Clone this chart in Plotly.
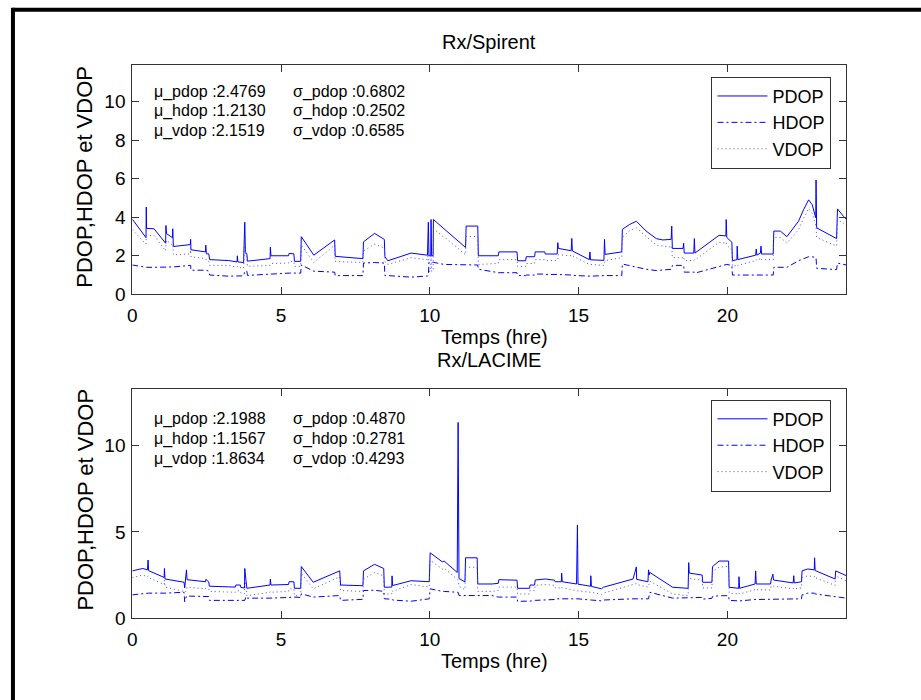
import plotly.graph_objects as go

# ---------------- Rx/Spirent : time (h) and DOP values ----------------
spirent_t = [0.00, 0.46, 0.47, 0.48, 0.73, 1.12, 1.13, 1.15, 1.35, 1.36, 1.38, 1.95, 1.96, 1.97,
             2.46, 2.47, 2.49, 2.57, 2.60, 3.24, 3.52, 3.53, 3.55, 3.74, 3.78, 3.80, 3.85, 3.87,
             4.63, 4.64, 4.66, 5.25, 5.27, 5.43, 5.45, 5.66, 5.68, 6.10, 6.80, 6.82, 7.75, 7.77,
             8.14, 8.47, 8.49, 8.59, 9.37, 9.92, 9.95, 9.97, 10.03, 10.04, 10.06, 10.11, 10.12,
             10.48, 10.55, 11.20, 11.22, 11.61, 11.63, 12.30, 12.32, 12.93, 12.95, 13.22, 13.24,
             13.52, 13.54, 13.86, 13.88, 14.28, 14.30, 14.32, 14.75, 14.77, 14.79, 15.36, 15.38,
             15.40, 15.85, 15.87, 15.89, 16.45, 16.47, 16.71, 16.94, 17.27, 17.61, 17.83, 18.11,
             18.13, 18.15, 18.51, 18.53, 18.55, 18.87, 18.89, 18.91, 19.72, 19.95, 19.96, 19.98,
             20.15, 20.17, 20.32, 20.33, 20.35, 20.95, 20.97, 20.99, 21.11, 21.13, 21.15, 21.54,
             21.56, 21.78, 22.00, 22.39, 22.56, 22.73, 22.85, 22.97, 22.98, 23.00, 23.67, 23.70,
             23.90, 24.00]
spirent_pdop = [3.90, 2.94, 4.53, 3.42, 3.40, 2.65, 3.57, 3.15, 2.94, 3.40, 2.48, 2.58, 2.85, 2.31,
                2.20, 2.55, 2.10, 2.10, 1.80, 1.75, 1.68, 2.00, 1.68, 1.65, 3.74, 2.20, 2.10, 1.72,
                1.85, 2.45, 2.00, 2.00, 2.12, 2.10, 1.71, 1.71, 2.99, 2.03, 2.82, 1.97, 1.85, 2.72,
                3.16, 2.85, 1.95, 1.74, 2.14, 2.03, 3.74, 2.00, 2.00, 3.88, 2.00, 2.00, 3.88,
                3.37, 3.30, 2.43, 3.54, 3.54, 2.00, 2.00, 2.20, 2.20, 1.74, 1.74, 1.95,
                1.95, 2.20, 2.20, 2.09, 2.09, 2.68, 2.38, 2.26, 2.90, 2.25, 1.80, 2.20,
                1.79, 1.76, 2.85, 2.07, 2.20, 3.37, 3.62, 3.79, 3.28, 2.89, 2.82, 2.85,
                3.54, 2.38, 2.38, 2.65, 2.14, 2.14, 2.89, 2.14, 3.06, 3.03, 3.88, 2.95,
                2.70, 1.74, 1.80, 2.50, 1.80, 2.03, 2.35, 2.03, 2.14, 2.50, 2.09, 2.09,
                3.28, 3.28, 2.99, 3.79, 4.39, 4.90, 4.65, 3.97, 5.93, 3.45, 2.89, 4.43,
                4.05, 3.88]
spirent_hdop = [1.52, 1.40, 1.40, 1.40, 1.40, 1.40, 1.40, 1.40, 1.42, 1.42, 1.42, 1.50, 1.50, 1.25,
                1.25, 1.25, 1.25, 1.20, 1.00, 0.94, 0.95, 0.95, 0.95, 0.96, 1.20, 1.20, 1.20, 0.98,
                1.05, 1.05, 1.08, 1.10, 1.10, 1.10, 1.10, 1.10, 1.52, 1.20, 1.15, 0.97, 0.97, 1.62,
                1.65, 1.62, 0.97, 0.97, 0.89, 0.95, 1.00, 1.66, 1.66, 1.66, 1.66, 1.66, 1.66,
                1.55, 1.55, 1.52, 1.52, 1.52, 1.30, 1.12, 1.12, 1.12, 0.97, 0.97, 1.00,
                1.00, 1.05, 1.05, 1.03, 1.03, 1.03, 1.00, 1.00, 1.00, 0.98, 0.94, 0.94,
                0.94, 0.97, 0.97, 0.97, 0.97, 1.57, 1.48, 1.40, 1.30, 1.23, 1.25, 1.30,
                1.30, 1.50, 1.50, 1.50, 1.15, 1.15, 1.15, 1.10, 1.45, 1.55, 1.55, 1.55,
                1.50, 1.00, 1.00, 1.00, 1.00, 1.00, 1.00, 1.00, 1.00, 1.00, 1.00, 1.00,
                1.40, 1.40, 1.40, 1.74, 1.85, 1.95, 1.95, 1.90, 1.90, 1.35, 1.28, 1.62,
                1.55, 1.52]
spirent_vdop = [3.35, 2.60, 2.95, 3.05, 3.05, 2.25, 2.60, 2.80, 2.55, 2.60, 2.05, 2.10, 2.40, 1.95,
                1.85, 1.85, 1.75, 1.70, 1.50, 1.50, 1.40, 1.45, 1.40, 1.35, 2.90, 2.10, 2.00, 1.45,
                1.50, 1.55, 1.60, 1.62, 1.70, 1.70, 1.45, 1.45, 2.55, 1.65, 2.55, 1.70, 1.65, 2.25,
                2.60, 2.40, 1.70, 1.55, 1.90, 1.80, 2.30, 1.20, 1.20, 2.00, 1.20, 1.20, 3.40,
                2.95, 2.90, 2.05, 3.00, 3.00, 1.55, 1.60, 1.80, 1.80, 1.45, 1.45, 1.60,
                1.60, 1.80, 1.80, 1.75, 1.75, 1.80, 2.05, 2.00, 2.05, 2.00, 1.55, 1.55,
                1.55, 1.50, 1.60, 1.75, 1.90, 2.95, 3.30, 3.45, 3.00, 2.55, 2.50, 2.45,
                2.50, 1.90, 1.90, 1.95, 1.75, 1.75, 1.80, 1.78, 2.70, 2.65, 2.70, 2.55,
                2.30, 1.45, 1.50, 1.55, 1.50, 1.75, 1.80, 1.75, 1.85, 1.90, 1.80, 1.80,
                2.95, 2.95, 2.65, 3.35, 3.95, 4.45, 4.20, 3.55, 3.55, 2.95, 2.50, 3.85,
                3.70, 3.55]

# ---------------- Rx/LACIME : time (h) and DOP values ----------------
lacime_t = [0.00, 0.35, 0.51, 0.53, 0.55, 1.07, 1.08, 1.10, 1.74, 1.76, 1.82, 1.84, 2.46, 2.47,
            2.57, 2.59, 3.46, 3.48, 3.63, 3.65, 3.77, 3.78, 3.82, 3.85, 4.63, 4.64, 4.66, 5.25,
            5.27, 5.43, 5.45, 5.66, 5.68, 6.08, 6.97, 7.00, 7.75, 7.77, 8.14, 8.45, 8.47, 8.72,
            8.73, 8.75, 9.37, 9.98, 10.01, 10.42, 10.48, 10.92, 10.95, 10.98, 11.18, 11.20,
            11.59, 11.61, 12.09, 12.30, 12.32, 12.93, 12.95, 13.35, 13.37, 13.52, 13.54, 13.88,
            14.19, 14.21, 14.42, 14.43, 14.45, 14.93, 14.96, 14.98, 15.40, 15.41, 15.43, 15.77,
            15.83, 16.83, 16.94, 16.95, 17.33, 17.35, 17.37, 17.39, 18.16, 18.68, 18.70, 18.72,
            19.15, 19.17, 19.48, 19.50, 19.72, 20.04, 20.06, 20.38, 20.39, 20.41, 20.93, 20.95,
            20.97, 21.45, 21.47, 21.53, 21.55, 22.21, 22.23, 22.25, 22.49, 22.51, 22.70, 22.92,
            22.93, 22.95, 23.62, 23.64, 24.00]
lacime_pdop = [2.74, 2.88, 2.80, 3.37, 2.75, 2.36, 2.88, 2.27, 2.08, 1.75, 2.80, 2.23, 2.11, 2.25,
               2.10, 1.85, 1.80, 1.92, 1.92, 1.78, 1.75, 2.88, 2.20, 1.73, 1.92, 2.27, 1.92, 1.95,
               2.11, 2.11, 1.73, 1.73, 2.99, 2.08, 2.74, 1.92, 1.88, 2.74, 3.12, 2.88, 1.79, 1.80,
               2.45, 1.89, 2.17, 2.11, 3.79, 3.26, 3.31, 2.65, 11.35, 2.30, 2.10, 3.50,
               3.50, 1.98, 1.98, 2.02, 2.23, 2.20, 1.73, 1.73, 1.92, 1.92, 2.21, 2.27,
               2.20, 2.11, 2.11, 2.61, 2.11, 1.98, 5.40, 1.97, 1.85, 2.46, 1.84, 1.70,
               1.79, 2.27, 2.97, 2.25, 2.11, 2.80, 2.50, 2.65, 1.79, 1.73, 3.22, 2.61,
               2.50, 2.08, 2.08, 2.99, 3.31, 3.31, 1.79, 1.73, 2.40, 1.73, 1.98, 2.74,
               1.98, 1.98, 2.21, 2.55, 2.21, 2.04, 2.46, 2.04, 2.11, 2.74, 2.85, 2.80,
               3.50, 2.76, 2.27, 2.74, 2.46]
lacime_hdop = [1.35, 1.40, 1.41, 1.41, 1.45, 1.45, 1.45, 1.45, 1.50, 0.95, 1.28, 1.28, 1.25, 1.25,
               1.25, 1.03, 1.00, 1.00, 1.02, 1.02, 1.03, 1.03, 1.25, 1.16, 1.16, 1.16, 1.16, 1.20,
               1.20, 1.22, 1.22, 1.20, 1.41, 1.22, 1.31, 1.03, 1.09, 1.60, 1.62, 1.55, 1.12, 1.10,
               1.10, 1.05, 0.98, 1.12, 1.70, 1.55, 1.55, 1.50, 1.50, 1.31, 1.31, 1.31,
               1.31, 1.31, 1.31, 1.22, 1.22, 1.22, 0.97, 0.97, 1.00, 1.00, 1.03, 1.05,
               1.08, 1.12, 1.12, 1.12, 1.12, 1.12, 1.12, 1.12, 1.05, 1.05, 1.05, 1.00,
               1.05, 1.12, 1.12, 1.12, 1.12, 1.12, 1.30, 1.50, 1.16, 1.20, 1.20, 1.20,
               1.20, 1.10, 1.15, 1.25, 1.30, 1.30, 1.03, 1.00, 1.00, 1.00, 1.08, 1.08,
               1.08, 1.12, 1.12, 1.12, 1.12, 1.10, 1.10, 1.10, 1.12, 1.35, 1.45, 1.45,
               1.45, 1.40, 1.22, 1.22, 1.16]
lacime_vdop = [2.35, 2.50, 2.40, 2.45, 2.35, 1.95, 2.20, 1.80, 1.55, 1.50, 1.60, 1.80, 1.70, 1.75,
               1.70, 1.55, 1.50, 1.58, 1.58, 1.45, 1.42, 2.30, 1.80, 1.30, 1.50, 1.55, 1.50, 1.55,
               1.70, 1.70, 1.30, 1.30, 2.60, 1.70, 2.40, 1.60, 1.55, 2.25, 2.65, 2.45, 1.40, 1.40,
               1.60, 1.55, 1.95, 1.80, 3.35, 2.85, 2.90, 2.20, 2.20, 1.85, 1.65, 2.95,
               2.95, 1.55, 1.55, 1.60, 1.80, 1.80, 1.40, 1.40, 1.60, 1.60, 1.90, 1.95,
               1.90, 1.75, 1.75, 1.80, 1.75, 1.60, 1.60, 1.58, 1.50, 1.50, 1.50, 1.38,
               1.45, 1.95, 2.00, 1.95, 1.80, 1.85, 2.05, 2.15, 1.40, 1.30, 2.20, 2.30,
               2.20, 1.75, 1.75, 2.70, 2.95, 3.00, 1.45, 1.40, 1.45, 1.40, 1.65, 1.70,
               1.65, 1.63, 1.85, 1.90, 1.85, 1.70, 1.75, 1.70, 1.75, 2.35, 2.45, 2.40,
               2.45, 2.35, 1.90, 2.45, 2.15]

# ---------------- summary statistics shown in each panel ----------------
stat_names = ["pdop", "hdop", "vdop"]
spirent_mu = ["2.4769", "1.2130", "2.1519"]
spirent_sigma = ["0.6802", "0.2502", "0.6585"]
lacime_mu = ["2.1988", "1.1567", "1.8634"]
lacime_sigma = ["0.4870", "0.2781", "0.4293"]

x_ticks = [0, 5, 10, 15, 20]
spirent_y_ticks = [0, 2, 4, 6, 8, 10]
lacime_y_ticks = [0, 5, 10]

W, H = 921, 700
FONT = "Liberation Sans, Arial, Helvetica, sans-serif"
BLUE = "rgb(0,0,255)"
AXIS_COLOR = "#333333"


def px_x(x):
    return x / W


def px_y(y):
    return 1 - y / H


fig = go.Figure()

styles = [("PDOP", "solid", BLUE),
          ("HDOP", "6px,3px,2px,3px", BLUE),
          ("VDOP", "1px,3px", "rgb(70,70,255)")]


def add_panel(t, series, xa, ya, legend):
    for (name, dash, color), y in zip(styles, series):
        fig.add_trace(go.Scatter(
            x=t, y=y, mode="lines", name=name,
            line=dict(color=color, width=1, dash=dash),
            xaxis=xa, yaxis=ya, legend=legend,
        ))


add_panel(spirent_t, [spirent_pdop, spirent_hdop, spirent_vdop], "x", "y", "legend")
add_panel(lacime_t, [lacime_pdop, lacime_hdop, lacime_vdop], "x2", "y2", "legend2")

axis_common = dict(
    showgrid=False, zeroline=False, showline=True, linecolor=AXIS_COLOR, linewidth=1,
    mirror="ticks", ticks="inside", ticklen=7, tickcolor=AXIS_COLOR, tickwidth=1,
    tickfont=dict(family=FONT, size=19, color="black"),
)

x_dom = [px_x(128), px_x(846)]

legend_common = dict(
    xanchor="right", yanchor="top", x=px_x(831),
    bgcolor="white", bordercolor=AXIS_COLOR, borderwidth=1,
    font=dict(family=FONT, size=18, color="black"),
    itemwidth=50, tracegroupgap=0,
)

annotations = []


def add_text(text, x, y, size, xanchor="center", angle=0):
    annotations.append(dict(
        text=text, x=px_x(x), y=px_y(y), xref="paper", yref="paper",
        xanchor=xanchor, yanchor="middle", showarrow=False, textangle=angle,
        font=dict(family=FONT, size=size, color="black"),
    ))


# panel titles and axis labels
add_text("Rx/Spirent", 487, 43, 20)
add_text("Rx/LACIME", 487, 366, 20)
add_text("Temps (hre)", 492, 342, 20)
add_text("Temps (hre)", 492, 672, 20)
add_text("PDOP,HDOP et VDOP", 80, 180, 22, angle=-90)
add_text("PDOP,HDOP et VDOP", 80, 508, 22, angle=-90)

# mean / standard deviation block of each panel
for row, name in enumerate(stat_names):
    add_text(f"\u03bc_{name} :{spirent_mu[row]}", 148, 93 + 20 * row, 16, xanchor="left")
    add_text(f"\u03c3_{name} :{spirent_sigma[row]}", 288, 93 + 20 * row, 16, xanchor="left")
    add_text(f"\u03bc_{name} :{lacime_mu[row]}", 148, 426 + 20 * row, 16, xanchor="left")
    add_text(f"\u03c3_{name} :{lacime_sigma[row]}", 288, 426 + 20 * row, 16, xanchor="left")

# figure frame (top and left edges)
shapes = [
    dict(type="line", xref="paper", yref="paper", x0=px_x(8), x1=1.02, y0=px_y(10), y1=px_y(10),
         line=dict(color="black", width=4)),
    dict(type="line", xref="paper", yref="paper", x0=px_x(8), x1=px_x(8), y0=px_y(8), y1=-0.02,
         line=dict(color="black", width=4)),
]

fig.update_layout(
    width=W, height=H,
    margin=dict(l=0, r=0, t=0, b=0),
    paper_bgcolor="white", plot_bgcolor="white",
    showlegend=True,
    xaxis=dict(axis_common, domain=x_dom, range=[0, 24], tickvals=x_ticks, anchor="y",
               ticklabelstandoff=4),
    yaxis=dict(axis_common, domain=[px_y(299), px_y(66)], range=[0, 11.9],
               tickvals=spirent_y_ticks, anchor="x", ticklabelstandoff=2),
    xaxis2=dict(axis_common, domain=x_dom, range=[0, 24], tickvals=x_ticks, anchor="y2",
                ticklabelstandoff=4),
    yaxis2=dict(axis_common, domain=[px_y(628), px_y(395)], range=[0, 13.3],
                tickvals=lacime_y_ticks, anchor="x2", ticklabelstandoff=2),
    legend=dict(legend_common, y=px_y(78)),
    legend2=dict(legend_common, y=px_y(406)),
    annotations=annotations,
    shapes=shapes,
)

fig.write_html("out.html")
